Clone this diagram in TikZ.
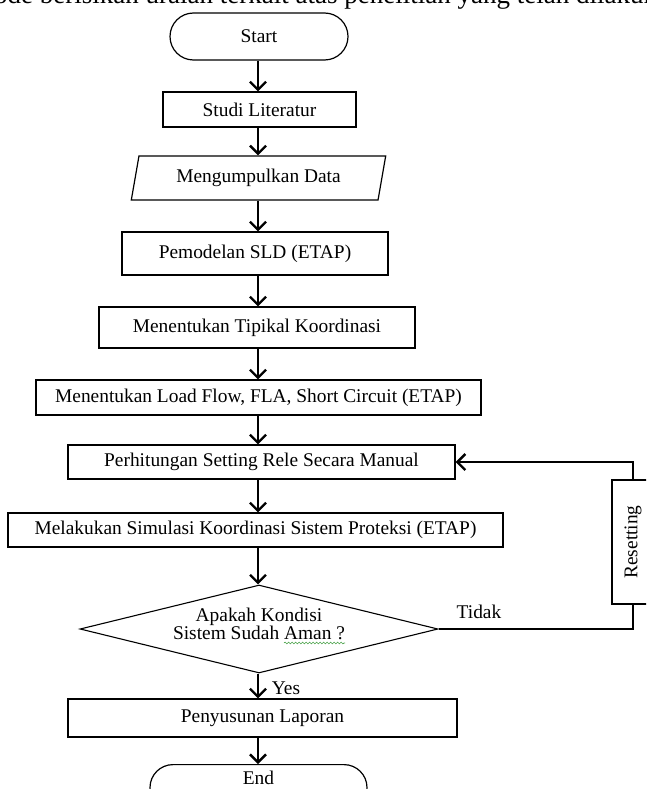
\documentclass[tikz,border=0pt]{standalone}
\usepackage{fontspec}
\usepackage{graphicx}
\setmainfont{Liberation Serif}
\usetikzlibrary{arrows.meta,shapes.geometric,shapes.misc,decorations.pathmorphing}
\tikzset{
  fc/.style={font=\fontsize{19.4}{19}\selectfont},
  box/.style={fc, draw, line width=1.2pt, rectangle, inner sep=2pt},
  term/.style={fc, draw, line width=1.2pt, rounded rectangle, inner sep=2pt},
  io/.style={fc, draw, line width=1.2pt, trapezium, trapezium left angle=76, trapezium right angle=104, trapezium stretches=true, inner sep=2pt},
  dia/.style={draw, line width=1.1pt, diamond, inner sep=0pt},
  arr/.style={line width=2.4pt, -{Straight Barb[length=8pt,width=16pt]}},
  conn/.style={line width=2.4pt},
  lbl/.style={fc, inner sep=0pt}
}
\begin{document}
\begin{tikzpicture}[x=1pt,y=-1pt]
\useasboundingbox (0,0) rectangle (646,789);
\clip (0,0) rectangle (646,789);
\node[anchor=base west, font=\fontsize{27}{28}\selectfont, inner sep=0pt] (toptext) at (-46.5,4) {metode berisikan uraian terkait atas penelitian yang telah dilakukan};
\coordinate (spine) at (258,0);
\node[term, minimum width=182pt, minimum height=47pt] (start) at (259,36.5) {Start};
\node[box, minimum width=193pt, minimum height=35pt] (studi) at (259.5,109.5) {Studi Literatur};
\node[io, minimum width=255pt, minimum height=44pt] (data) at (258.5,178) {Mengumpulkan Data};
\node[box, minimum width=266pt, minimum height=43pt] (sld) at (255,253.5) {Pemodelan SLD (ETAP)};
\node[box, minimum width=316pt, minimum height=41pt] (tip) at (257,327.5) {Menentukan Tipikal Koordinasi};
\node[box, minimum width=445pt, minimum height=35pt] (lf) at (258.5,397.5) {Menentukan Load Flow, FLA, Short Circuit (ETAP)};
\node[box, minimum width=387pt, minimum height=34pt] (calc) at (261.5,462) {Perhitungan Setting Rele Secara Manual};
\node[box, minimum width=495pt, minimum height=34pt] (sim) at (255.5,530) {Melakukan Simulasi Koordinasi Sistem Proteksi (ETAP)};
\node[dia, minimum width=358pt, minimum height=88pt] (dec) at (259,629) {};
\node[lbl, align=center] (dectext) at (259,624) {Apakah Kondisi\\[-1pt]Sistem Sudah Aman ?};
\node[box, minimum width=389pt, minimum height=38pt] (rep) at (262.5,718) {Penyusunan Laporan};
\node[term, minimum width=221pt, minimum height=46pt, text depth=20pt, anchor=north] (end) at (258.5,764) {End};
\node[box, minimum width=42pt, minimum height=124pt] (reset) at (633,542) {\rotatebox{90}{Resetting}};
\node[lbl] (tidak) at (479,612) {Tidak};
\node[lbl] (yes) at (286,688) {Yes};
\draw[decorate, decoration={snake, amplitude=0.9pt, segment length=3.5pt}, line width=0.6pt, color={rgb,255:red,70;green,160;blue,70}] (284,643) -- (345,643);
\draw[arr] (start.south -| spine) -- (studi.north -| spine);
\draw[arr] (studi.south -| spine) -- (data.north -| spine);
\draw[arr] (data.south -| spine) -- (sld.north -| spine);
\draw[arr] (sld.south -| spine) -- (tip.north -| spine);
\draw[arr] (tip.south -| spine) -- (lf.north -| spine);
\draw[arr] (lf.south -| spine) -- (calc.north -| spine);
\draw[arr] (calc.south -| spine) -- (sim.north -| spine);
\draw[arr] (sim.south -| spine) -- (dec.north -| spine);
\draw[arr] (dec.south -| spine) -- (rep.north -| spine);
\draw[arr] (rep.south -| spine) -- (end.north -| spine);
\draw[conn] (dec.east) -| (reset.south);
\draw[arr] (reset.north) |- (calc.east);
\end{tikzpicture}
\end{document}
